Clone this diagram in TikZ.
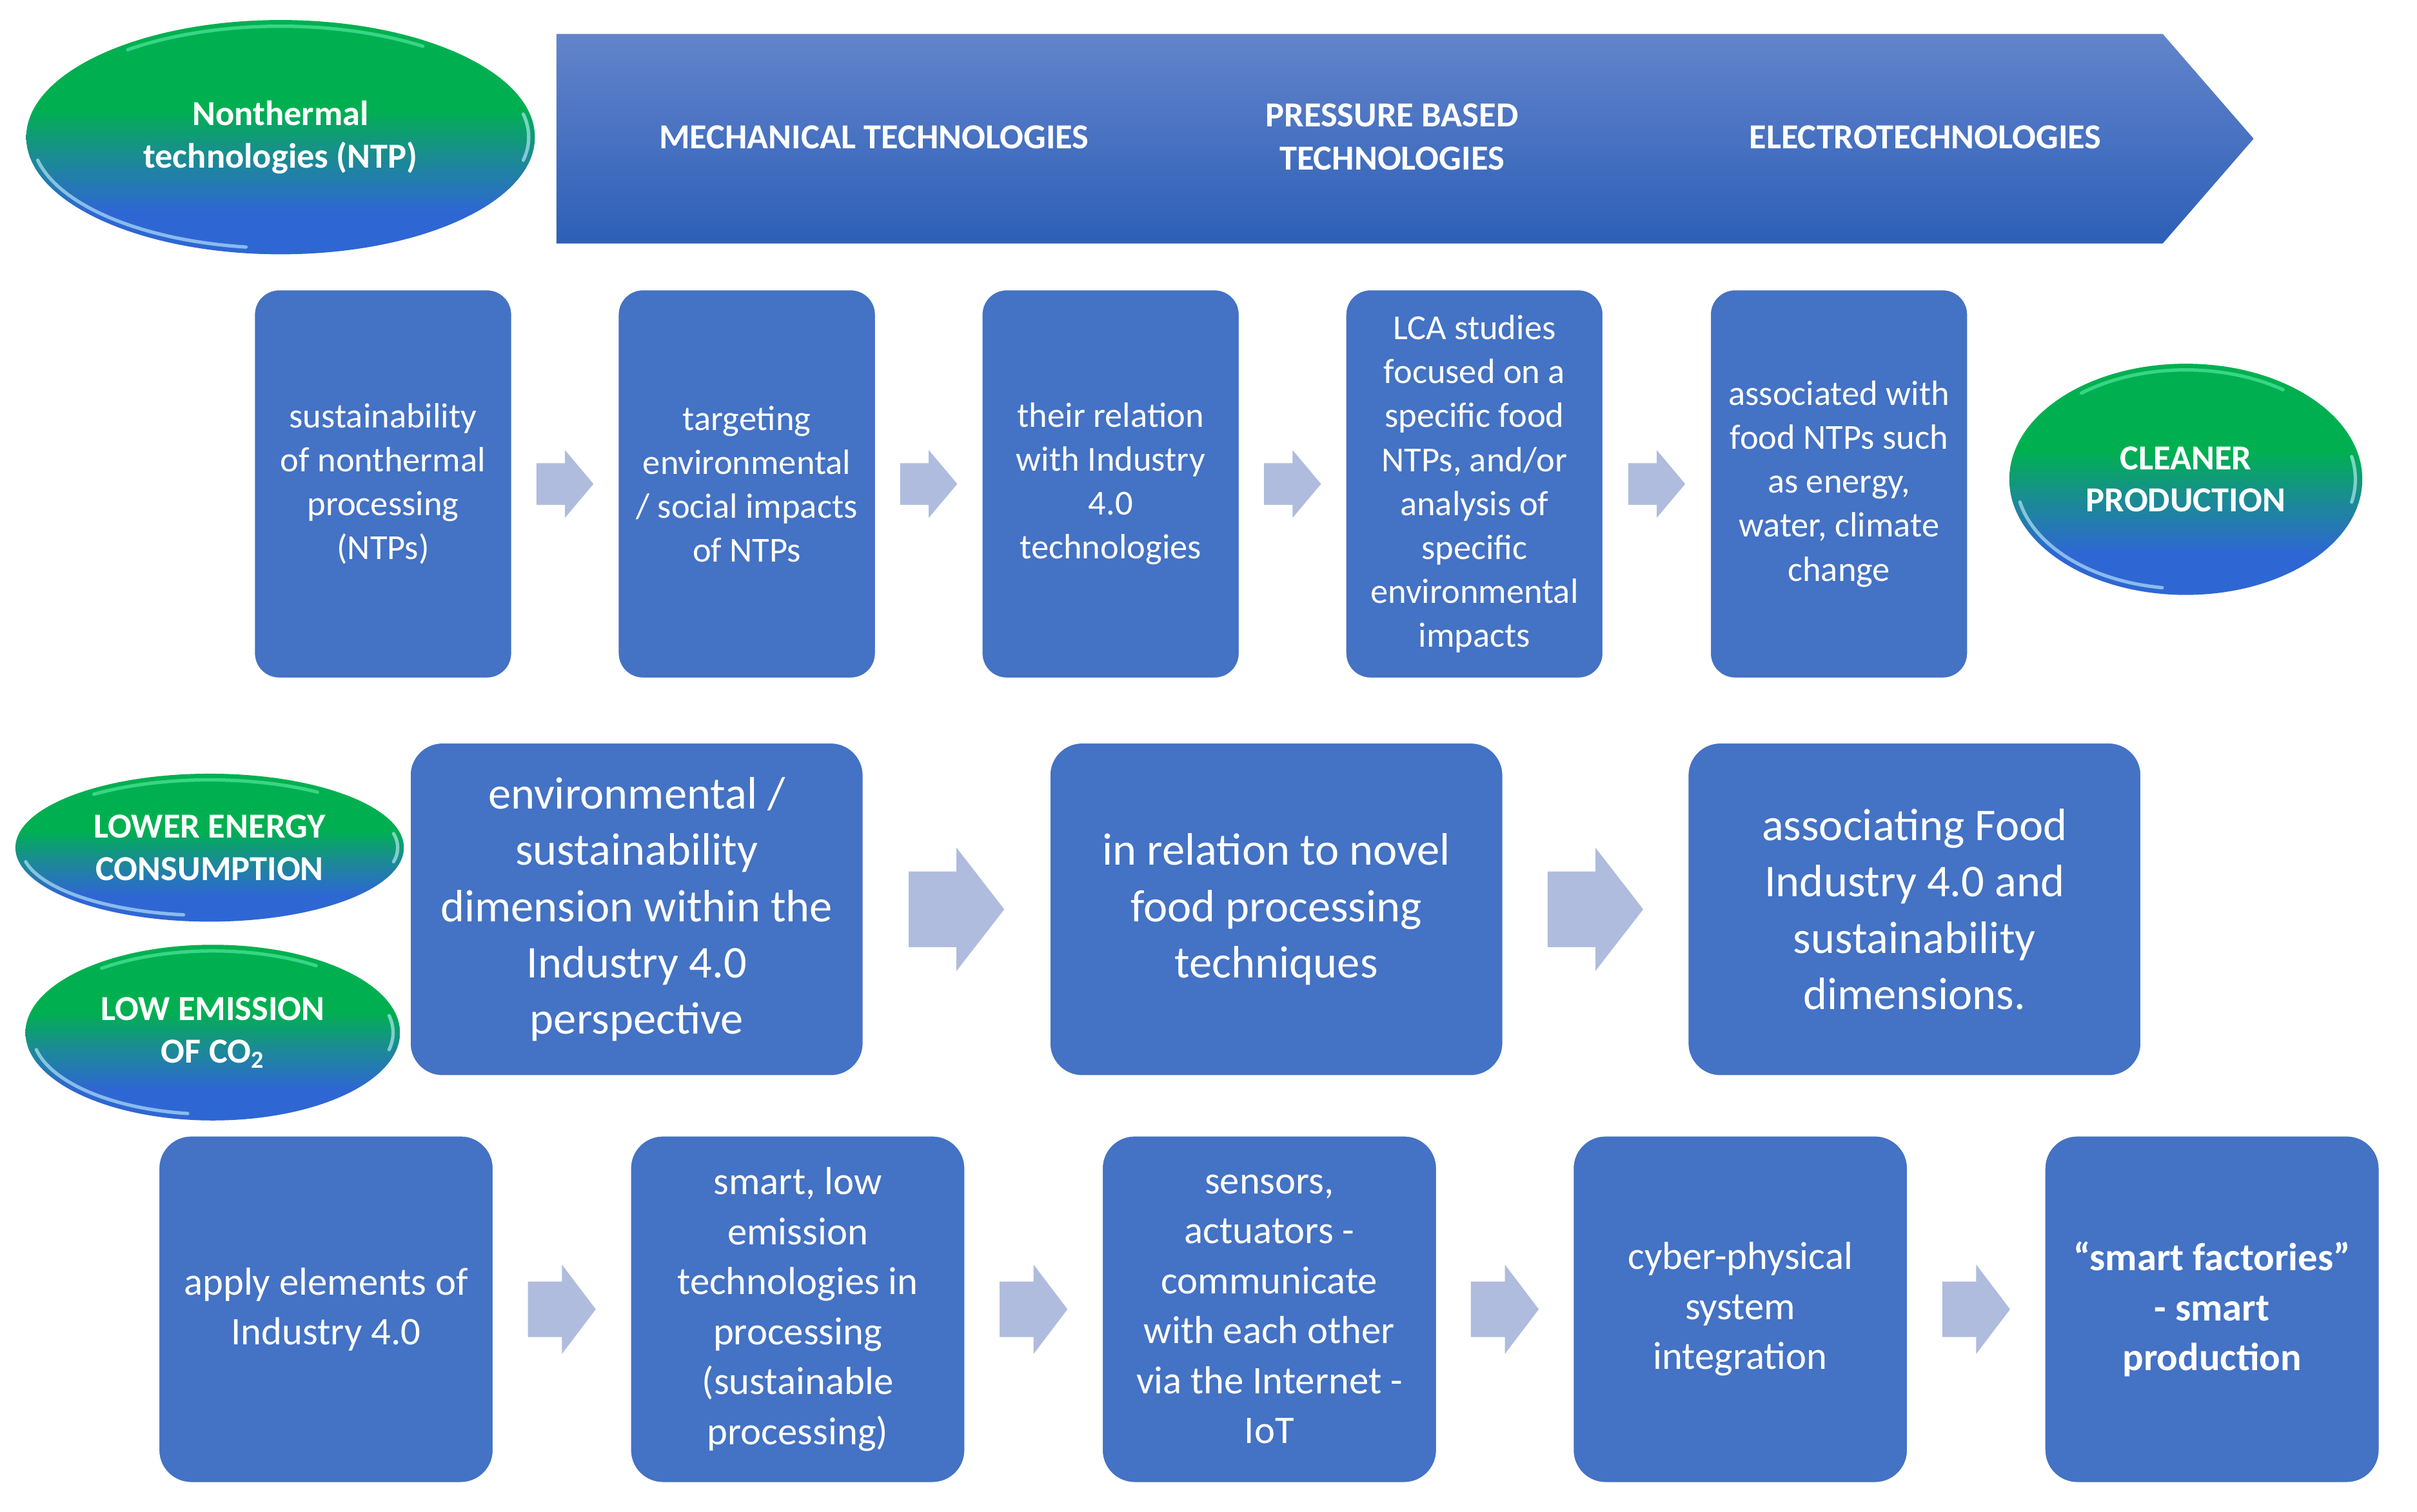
\documentclass[tikz,border=0pt]{standalone}
\usepackage{fontspec}
\setmainfont{Carlito}
\usetikzlibrary{shapes.geometric,calc}

\definecolor{boxblue}{HTML}{4472C4}
\definecolor{arrowblue}{HTML}{AFBCDE}
\definecolor{bantop}{HTML}{6384CB}
\definecolor{banbot}{HTML}{2D5FB7}
\definecolor{ntpgreen}{HTML}{00B050}
\definecolor{ntpteal}{HTML}{1A8C92}
\definecolor{ntpblue}{HTML}{2E67D3}
\definecolor{ntplight}{HTML}{5CF0A8}
\definecolor{rimcyan}{HTML}{C8F4FF}

\pgfdeclareverticalshading{ntpshade}{100bp}{color(0bp)=(ntpblue); color(34bp)=(ntpblue); color(46bp)=(ntpteal); color(56bp)=(ntpgreen); color(100bp)=(ntpgreen)}

\newcommand{\blockarrow}[5]{% from, to, length, head height, shaft height
  \coordinate (#1#2m) at ($(#1.east)!0.5!(#2.west)$);
  \fill[arrowblue] ($(#1#2m)+(-#3/2,-#5/2)$) -- ($(#1#2m)+(0,-#5/2)$) -- ($(#1#2m)+(0,-#4/2)$)
    -- ($(#1#2m)+(#3/2,0)$) -- ($(#1#2m)+(0,#4/2)$) -- ($(#1#2m)+(0,#5/2)$)
    -- ($(#1#2m)+(-#3/2,#5/2)$) -- cycle;
}
\newcommand{\ellrim}[3]{% node, x radius, y radius
  \draw[rimstyle] ([shift={(#1.center)}]192:#2 and #3) arc[start angle=192, end angle=262, x radius=#2, y radius=#3];
  \draw[toprim] ([shift={(#1.center)}]55:#2 and #3) arc[start angle=55, end angle=128, x radius=#2, y radius=#3];
  \draw[rimstyle] ([shift={(#1.center)}]-12:#2 and #3) arc[start angle=-12, end angle=12, x radius=#2, y radius=#3];
}

\tikzset{
  boxbase/.style={rectangle, fill=boxblue, draw=white, line width=0.8pt, text=white, align=center, inner sep=0pt},
  boxa/.style={boxbase, minimum width=167pt, minimum height=252pt, rounded corners=16pt, font=\fontsize{22.8}{28.5}\selectfont},
  boxb/.style={boxbase, minimum width=294pt, minimum height=216pt, rounded corners=21pt, font=\fontsize{29.5}{36.5}\selectfont},
  boxc/.style={boxbase, minimum width=217pt, minimum height=225pt, rounded corners=21pt, font=\fontsize{25.4}{32.4}\selectfont},
  ntpell/.style={ellipse, shade, shading=ntpshade, text=white, align=center, inner sep=0pt, font=\bfseries\fontsize{22.8}{27.5}\selectfont},
  bantext/.style={text=white, align=center, inner sep=0pt, font=\bfseries\fontsize{22.8}{28}\selectfont},
  rimstyle/.style={draw=rimcyan, line width=2.2pt, opacity=0.6, line cap=round},
  toprim/.style={draw=ntplight, line width=2.2pt, opacity=0.6, line cap=round}
}

\begin{document}
\begin{tikzpicture}[x=1pt, y=-1pt]
\useasboundingbox (0,0) rectangle (1568,981);
\fill[white] (0,0) rectangle (1568,981);

% top banner
\shade[top color=bantop, bottom color=banbot] (361,22) -- (1403,22) -- (1462,90) -- (1403,158) -- (361,158) -- cycle;
\node[bantext] (mech) at (567,89) {MECHANICAL TECHNOLOGIES};
\node[bantext] (press) at (903,89) {PRESSURE BASED\\TECHNOLOGIES};
\node[bantext] (elec) at (1249,89) {ELECTROTECHNOLOGIES};

% ellipses
\node[ntpell, minimum width=330pt, minimum height=152pt] (ntp) at (182,89) {Nonthermal\\technologies (NTP)};
\node[ntpell, minimum width=229pt, minimum height=150pt] (cp) at (1418,311) {CLEANER\\PRODUCTION};
\node[ntpell, minimum width=252pt, minimum height=96pt] (lec) at (136,550) {LOWER ENERGY\\CONSUMPTION};
\node[ntpell, minimum width=243pt, minimum height=114pt] (lco) at (138,670) {LOW EMISSION\\OF CO\textsubscript{2}};
\ellrim{ntp}{161pt}{72pt}
\ellrim{cp}{110pt}{71pt}
\ellrim{lec}{122pt}{44pt}
\ellrim{lco}{117pt}{53pt}

% row 1
\node[boxa] (b1) at (248.5,314) {sustainability\\of nonthermal\\processing\\(NTPs)};
\node[boxa] (b2) at (484.5,314) {targeting\\environmental\\/ social impacts\\of NTPs};
\node[boxa] (b3) at (720.5,314) {their relation\\with Industry\\4.0\\technologies};
\node[boxa] (b4) at (956.5,314) {LCA studies\\focused on a\\specific food\\NTPs, and/or\\analysis of\\specific\\environmental\\impacts};
\node[boxa] (b5) at (1193,314) {associated with\\food NTPs such\\as energy,\\water, climate\\change};
\blockarrow{b1}{b2}{37}{44}{27}
\blockarrow{b2}{b3}{37}{44}{27}
\blockarrow{b3}{b4}{37}{44}{27}
\blockarrow{b4}{b5}{37}{44}{27}

% row 2
\node[boxb] (m1) at (413,590) {environmental /\\sustainability\\dimension within the\\Industry 4.0\\perspective};
\node[boxb] (m2) at (828,590) {in relation to novel\\food processing\\techniques};
\node[boxb] (m3) at (1242,590) {associating Food\\Industry 4.0 and\\sustainability\\dimensions.};
\blockarrow{m1}{m2}{62}{80}{49}
\blockarrow{m2}{m3}{62}{80}{49}

% row 3
\node[boxc] (c1) at (211.5,849.5) {apply elements of\\Industry 4.0};
\node[boxc] (c2) at (517.5,849.5) {smart, low\\emission\\technologies in\\processing\\(sustainable\\processing)};
\node[boxc] (c3) at (823.5,849.5) {sensors,\\actuators -\\communicate\\with each other\\via the Internet -\\IoT};
\node[boxc] (c4) at (1129,849.5) {cyber-physical\\system\\integration};
\node[boxc, font=\bfseries\fontsize{25.4}{32.4}\selectfont] (c5) at (1435,849.5) {“smart factories”\\- smart\\production};
\blockarrow{c1}{c2}{44}{58}{36}
\blockarrow{c2}{c3}{44}{58}{36}
\blockarrow{c3}{c4}{44}{58}{36}
\blockarrow{c4}{c5}{44}{58}{36}
\end{tikzpicture}
\end{document}
